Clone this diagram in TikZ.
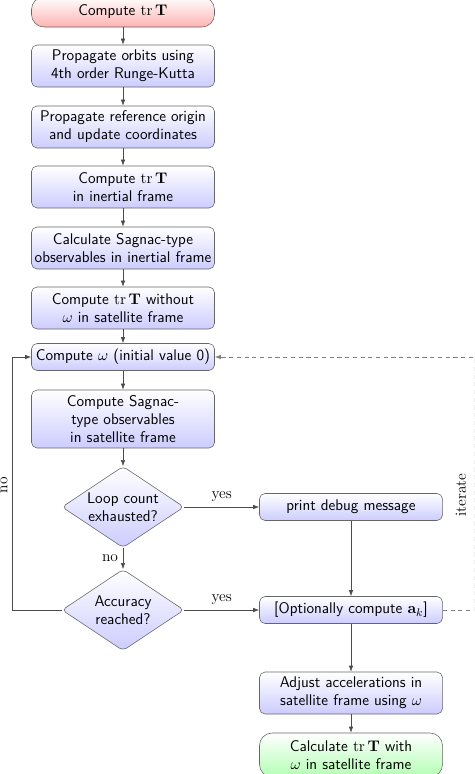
\documentclass[tikz,border=0pt]{standalone}
\usetikzlibrary{shapes.geometric,arrows.meta}
\begin{document}
\begin{tikzpicture}[x=0.025cm, y=-0.025cm, font=\sffamily\fontsize{11}{12.8}\selectfont,
		line/.style={draw=black!70, -{Latex[length=1.5mm,width=1.1mm]}},
		iterline/.style={line, draw=black!50, dash pattern=on 3pt off 2.5pt},
		block/.style={rectangle, rounded corners=4pt, draw=black!60, top color=white, bottom color=blue!20, text width=4.45cm, align=center, minimum width=4.575cm, inner sep=1.5pt},
		twoline/.style={block, minimum height=1.05cm},
		oneline/.style={block, minimum height=0.675cm},
		terminal/.style={block, rounded corners=9pt, minimum height=1.1cm},
		decision/.style={diamond, aspect=1.5, rounded corners=3pt, draw=black!60, top color=white, bottom color=blue!20, align=center, inner sep=0pt, minimum width=3.05cm, minimum height=2.03cm},
		lbl/.style={font=\rmfamily\fontsize{11}{12.8}\selectfont}]
		\useasboundingbox (0, 0) rectangle (474, 774);
		\clip (0, 0) rectangle (474, 774);

		\node[terminal, minimum height=0.75cm, bottom color=red!30] (start) at (123, 12) {Compute $\mathrm{tr}\,\mathbf{T}$};
		\node[twoline] (orbits) at (123, 66) {Propagate orbits using\\4th order Runge-Kutta};
		\node[twoline] (origin) at (123, 127) {Propagate reference origin\\and update coordinates};
		\node[twoline] (inertial) at (123, 187) {Compute $\mathrm{tr}\,\mathbf{T}$\\in inertial frame};
		\node[twoline] (sagnaci) at (123, 248) {Calculate Sagnac-type\\observables in inertial frame};
		\node[twoline] (noomega) at (123, 308) {Compute $\mathrm{tr}\,\mathbf{T}$ without\\$\omega$ in satellite frame};
		\node[oneline] (omega) at (123, 357) {Compute $\omega$ (initial value 0)};
		\node[block, minimum height=1.45cm] (sagnacs) at (123, 419) {Compute Sagnac-\\type observables\\in satellite frame};
		\node[decision] (loop) at (123, 507) {Loop count\\exhausted?};
		\node[decision] (acc) at (123, 610) {Accuracy\\reached?};

		\node[oneline] (debug) at (351, 507) {print debug message};
		\node[oneline] (opt) at (351, 610) {[Optionally compute $\mathbf{a}_k$]};
		\node[twoline] (adjust) at (351, 693) {Adjust accelerations in\\satellite frame using $\omega$};
		\node[terminal, bottom color=green!30] (final) at (351, 755) {Calculate $\mathrm{tr}\,\mathbf{T}$ with\\$\omega$ in satellite frame};

		% main column
		\draw[line] (start) -- (orbits);
		\draw[line] (orbits) -- (origin);
		\draw[line] (origin) -- (inertial);
		\draw[line] (inertial) -- (sagnaci);
		\draw[line] (sagnaci) -- (noomega);
		\draw[line] (noomega) -- (omega);
		\draw[line] (omega) -- (sagnacs);
		\draw[line] (sagnacs) -- (loop);
		\draw[line] (loop) -- node[lbl, left] {no} (acc);
		\draw[line] (loop) -- node[lbl, above] {yes} (debug);
		\draw[line] (acc) -- node[lbl, above] {yes} (opt);
		\draw[line] (debug) -- (opt);
		\draw[line] (opt) -- (adjust);
		\draw[line] (adjust) -- (final);

		% loops back
		\coordinate (noturn) at (12, 357);
		\draw[line] (acc.west) -| (noturn) -- (omega.west);
		\node[lbl, rotate=90] (nolbl) at (4, 485) {no};
		\coordinate (iterturn) at (474.5, 357);
		\draw[iterline] (opt.east) -| (iterturn) -- (omega.east);
		\node[lbl, rotate=90] (iterlbl) at (461, 495) {iterate};
	\end{tikzpicture}
\end{document}
